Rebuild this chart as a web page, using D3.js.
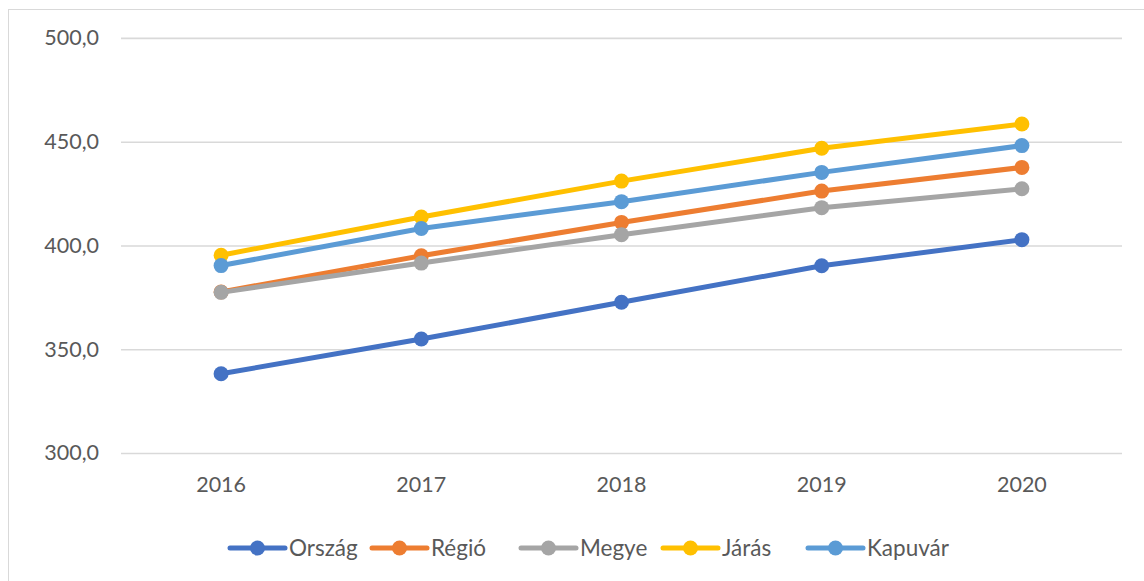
<!DOCTYPE html>
<html>
<head>
<meta charset="utf-8">
<script src="https://cdn.jsdelivr.net/npm/d3@7"></script>
<style>
  html, body { margin: 0; padding: 0; background: #fff; }
  svg { display: block; }
  text { font-family: Lato, "Open Sans", sans-serif; fill: #595959; }
</style>
</head>
<body>
<svg id="chart" width="1144" height="581"></svg>
<script>
// Years on the category axis
const years = ["2016", "2017", "2018", "2019", "2020"];

// Series values per year
const orszag  = [338.2, 354.9, 372.6, 390.2, 402.8];
const regio   = [377.6, 395.0, 411.1, 426.2, 437.6];
const megye   = [377.4, 391.5, 405.2, 418.2, 427.3];
const jaras   = [395.3, 413.7, 431.0, 446.8, 458.5];
const kapuvar = [390.3, 408.2, 421.1, 435.2, 448.1];

// Value-axis ticks
const yTicks = [300, 350, 400, 450, 500];

const seriesNames  = ["Ország", "Régió", "Megye", "Járás", "Kapuvár"];
const seriesValues = [orszag, regio, megye, jaras, kapuvar];
const seriesColors = ["#4472C4", "#ED7D31", "#A5A5A5", "#FFC000", "#5B9BD5"];

const series = seriesNames.map((name, i) => ({
  name, color: seriesColors[i],
  values: years.map((yr, j) => ({ year: yr, value: seriesValues[i][j] }))
}));

const svg = d3.select("#chart");

// Chart frame
svg.append("rect")
  .attr("x", 8.5).attr("y", 9.5)
  .attr("width", 1150).attr("height", 600)
  .attr("fill", "none").attr("stroke", "#d9d9d9").attr("stroke-width", 1);

const plot = { left: 121, right: 1122, top: 37.9, bottom: 453 };

const x = d3.scaleBand().domain(years).range([plot.left, plot.right]);
const y = d3.scaleLinear().domain([300, 500]).range([plot.bottom, plot.top]);

// Horizontal gridlines + value labels
const yAxis = d3.axisLeft(y).tickValues(yTicks)
  .tickSize(-(plot.right - plot.left))
  .tickPadding(22)
  .tickFormat(d => d3.format(".1f")(d).replace(".", ","));

const gy = svg.append("g")
  .attr("transform", `translate(${plot.left},0)`)
  .call(yAxis);
gy.select(".domain").remove();
gy.selectAll(".tick line").attr("stroke", "#d9d9d9").attr("stroke-width", 1.6);
gy.selectAll(".tick text")
  .attr("font-size", 21.5).attr("fill", "#595959")
  .style("font-family", "Lato, 'Open Sans', sans-serif");

// Category labels
const xAxis = d3.axisBottom(x).tickSize(0).tickPadding(24);
const gx = svg.append("g")
  .attr("transform", `translate(0,${plot.bottom})`)
  .call(xAxis);
gx.select(".domain").remove();
gx.selectAll(".tick text")
  .attr("font-size", 21.5).attr("fill", "#595959")
  .style("font-family", "Lato, 'Open Sans', sans-serif");

const cx = d => x(d.year) + x.bandwidth() / 2;

const line = d3.line().x(cx).y(d => y(d.value));

const layers = svg.append("g");
series.forEach(s => {
  const g = layers.append("g");
  g.append("path")
    .datum(s.values)
    .attr("d", line)
    .attr("fill", "none")
    .attr("stroke", s.color)
    .attr("stroke-width", 5)
    .attr("stroke-linejoin", "round")
    .attr("stroke-linecap", "round");
  g.selectAll("circle")
    .data(s.values)
    .join("circle")
    .attr("cx", cx)
    .attr("cy", d => y(d.value))
    .attr("r", 7.5)
    .attr("fill", s.color);
});

// Legend: one swatch + label per series, laid out left to right
const legendStarts = [230, 372, 521, 663, 808];
const legend = svg.append("g").attr("transform", "translate(0,548)");
series.forEach((s, i) => {
  const item = legend.append("g").attr("transform", `translate(${legendStarts[i]},0)`);
  item.append("line")
    .attr("x1", 0).attr("x2", 55).attr("y1", 0).attr("y2", 0)
    .attr("stroke", s.color).attr("stroke-width", 5)
    .attr("stroke-linecap", "round");
  item.append("circle").attr("cx", 27.5).attr("cy", 0).attr("r", 7.5).attr("fill", s.color);
  item.append("text")
    .attr("x", 59).attr("y", 8)
    .attr("font-size", 22.5)
    .text(s.name);
});
</script>
</body>
</html>
